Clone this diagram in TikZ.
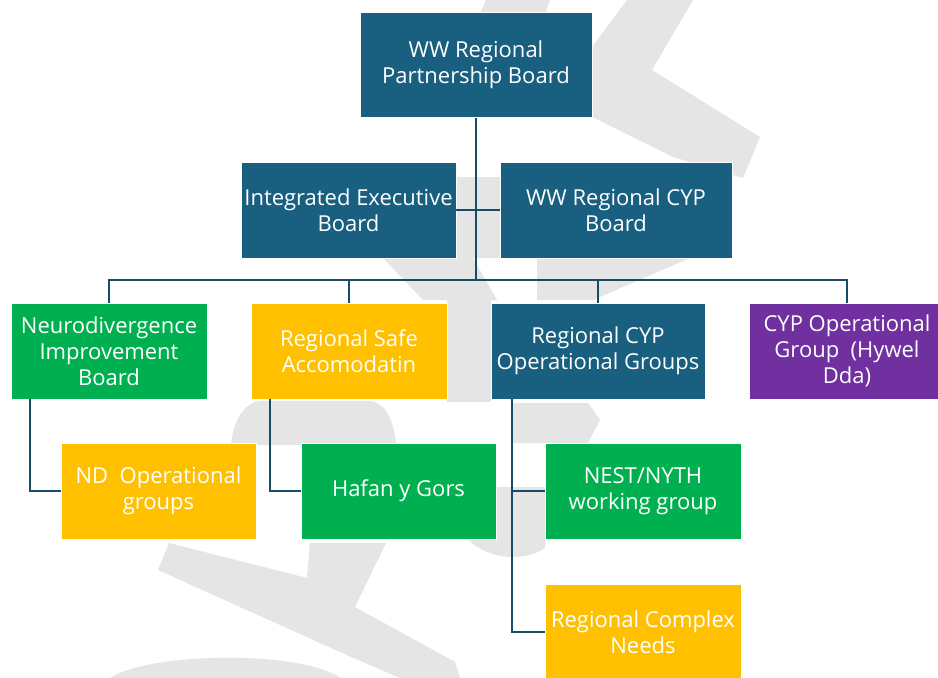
\documentclass[tikz,border=0pt]{standalone}
\usepackage{fontspec}
\setmainfont{Open Sans}
\definecolor{boxblue}{RGB}{24,95,128}
\definecolor{boxgreen}{RGB}{0,176,80}
\definecolor{boxyellow}{RGB}{255,192,0}
\definecolor{boxpurple}{RGB}{112,48,160}
\definecolor{linecol}{RGB}{24,75,104}
\definecolor{wmgrey}{RGB}{229,229,229}
\begin{document}
\begin{tikzpicture}[x=1pt,y=-1pt,
  orgbox/.style={rectangle, draw=white, line width=0.6pt, text=white, align=center,
    inner sep=0pt, font=\fontsize{22}{26}\selectfont},
  bluebox/.style={orgbox, fill=boxblue},
  greenbox/.style={orgbox, fill=boxgreen},
  yellowbox/.style={orgbox, fill=boxyellow},
  purplebox/.style={orgbox, fill=boxpurple},
  conn/.style={draw=linecol, line width=2.4pt},
  wm/.style={fill=wmgrey}]
\useasboundingbox (0,0) rectangle (938,678);
\clip (0,0) rectangle (938,678);
\fill[white] (0,0) rectangle (938,678);
% watermark fragments
\fill[wm] (486,0) -- (550,0) -- (545,14) -- (480,14) -- cycle;
\fill[wm] (627,0) -- (693,0) -- (652,70) -- (760,137) -- (743,178) -- (673,157) -- (554,98) -- cycle;
\fill[wm] (450,177) -- (505,177) -- (505,258) -- (450,258) -- cycle;
\fill[wm] (383,258) -- (473,258) -- (497,300) -- (423,300) -- cycle;
\fill[wm] (537,258) -- (690,258) -- (593,300) -- (537,300) -- cycle;
\fill[wm] (447,298) -- (491,298) -- (491,402) -- (447,402) -- cycle;
\fill[wm] (231,445) .. controls (233,420) and (245,401) .. (262,401) -- (368,401)
  .. controls (385,401) and (394,420) .. (396,445) -- cycle;
\fill[wm] (169,543) -- (307,578) -- (310,543) -- (386,543) -- (355,607) -- (455,662)
  -- (460,678) -- (400,678) -- (340,652) -- (158,570) -- cycle;
\fill[wm] (110,678) .. controls (150,652) and (300,650) .. (341,678) -- cycle;
\fill[wm] (513,403) -- (588,403) -- (600,420) -- (588,443) -- (513,443) -- cycle;
\fill[wm] (480,487) -- (545,487) -- (545,548) .. controls (525,562) and (490,560) .. (468,540) -- cycle;
% boxes
\node[bluebox, minimum width=232pt, minimum height=105pt] (top) at (476,65) {WW Regional\\Partnership Board};
\node[bluebox, minimum width=215pt, minimum height=96pt] (ieb) at (348.5,210) {Integrated Executive\\Board};
\node[bluebox, minimum width=232pt, minimum height=96pt] (cypb) at (616,210) {WW Regional CYP\\Board};
\node[greenbox, minimum width=196pt, minimum height=96pt] (nd) at (109,351) {Neurodivergence\\Improvement\\Board};
\node[yellowbox, minimum width=196pt, minimum height=96pt] (safe) at (349,351) {Regional Safe\\Accomodatin};
\node[bluebox, minimum width=214pt, minimum height=96pt] (ops) at (598,351) {Regional CYP\\Operational Groups};
\node[purplebox, minimum width=196pt, minimum height=96pt] (cypog) at (847,351) {CYP Operational\\Group\ \ (Hywel\\Dda)};
\node[yellowbox, minimum width=195pt, minimum height=96pt] (ndop) at (158.5,491) {ND\ \ Operational\\groups};
\node[greenbox, minimum width=195pt, minimum height=96pt] (hafan) at (398.5,491) {Hafan y Gors};
\node[greenbox, minimum width=196pt, minimum height=96pt] (nest) at (643,491) {NEST/NYTH\\working group};
\node[yellowbox, minimum width=196pt, minimum height=96pt] (rcn) at (643,632) {Regional Complex\\Needs};
% connectors
\coordinate (hub) at (476,280);
\draw[conn] (top.south) -- (hub);
\draw[conn] (ieb.east) -- (cypb.west);
\draw[conn] (nd.north) |- (hub) -| (cypog.north);
\draw[conn] (safe.north) -- (safe.north |- hub);
\draw[conn] (ops.north) -- (ops.north |- hub);
\draw[conn] ([xshift=19pt]nd.south west) |- (ndop.west);
\draw[conn] ([xshift=19pt]safe.south west) |- (hafan.west);
\draw[conn] ([xshift=21pt]ops.south west) |- (nest.west);
\draw[conn] ([xshift=21pt]ops.south west) |- (rcn.west);
\end{tikzpicture}
\end{document}
